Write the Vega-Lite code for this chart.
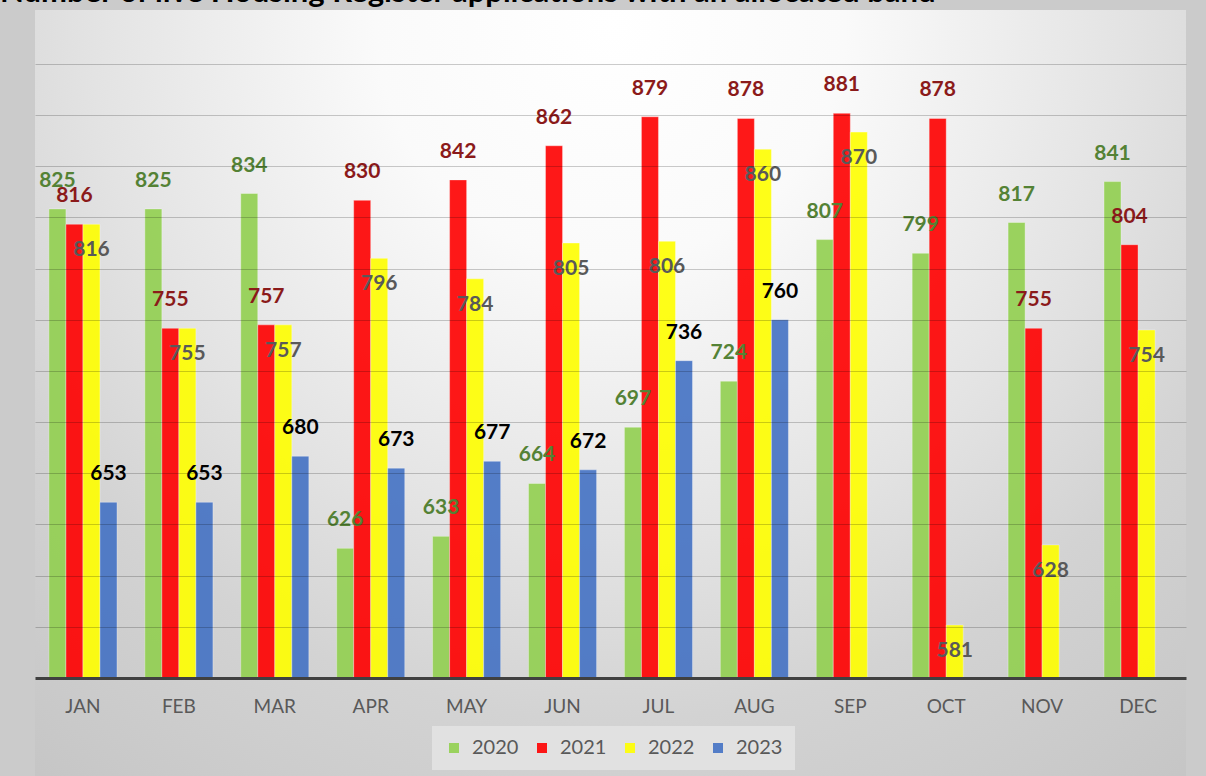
{
  "$schema": "https://vega.github.io/schema/vega-lite/v6.json",
  "width": 1151,
  "height": 766,
  "autosize": "none",
  "padding": {"left": 35, "top": 10, "right": 20, "bottom": 0},
  "background": "#cbcbcb",
  "view": {
    "stroke": null,
    "fill": {
      "gradient": "radial",
      "x1": 0.5, "y1": 0.18, "r1": 0,
      "x2": 0.5, "y2": 0.18, "r2": 0.85,
      "stops": [
        {"offset": 0, "color": "#ffffff"},
        {"offset": 0.24, "color": "#fafafa"},
        {"offset": 0.53, "color": "#e3e3e3"},
        {"offset": 0.71, "color": "#d3d3d3"},
        {"offset": 1, "color": "#c4c4c4"}
      ]
    }
  },
  "title": {
    "text": "Number of live Housing Register applications with an allocated band",
    "orient": "top",
    "anchor": "start",
    "frame": "group",
    "dx": -35,
    "dy": 31,
    "offset": 1,
    "baseline": "bottom",
    "font": "Lato",
    "fontSize": 31,
    "fontWeight": "bold",
    "color": "#000000",
    "zindex": 1
  },
  "data": {
    "values": [
      {"month": "JAN", "series": "2020", "value": 825},
      {"month": "JAN", "series": "2021", "value": 816},
      {"month": "JAN", "series": "2022", "value": 816},
      {"month": "JAN", "series": "2023", "value": 653},
      {"month": "FEB", "series": "2020", "value": 825},
      {"month": "FEB", "series": "2021", "value": 755},
      {"month": "FEB", "series": "2022", "value": 755},
      {"month": "FEB", "series": "2023", "value": 653},
      {"month": "MAR", "series": "2020", "value": 834},
      {"month": "MAR", "series": "2021", "value": 757},
      {"month": "MAR", "series": "2022", "value": 757},
      {"month": "MAR", "series": "2023", "value": 680},
      {"month": "APR", "series": "2020", "value": 626},
      {"month": "APR", "series": "2021", "value": 830},
      {"month": "APR", "series": "2022", "value": 796},
      {"month": "APR", "series": "2023", "value": 673},
      {"month": "MAY", "series": "2020", "value": 633},
      {"month": "MAY", "series": "2021", "value": 842},
      {"month": "MAY", "series": "2022", "value": 784},
      {"month": "MAY", "series": "2023", "value": 677},
      {"month": "JUN", "series": "2020", "value": 664},
      {"month": "JUN", "series": "2021", "value": 862},
      {"month": "JUN", "series": "2022", "value": 805},
      {"month": "JUN", "series": "2023", "value": 672},
      {"month": "JUL", "series": "2020", "value": 697},
      {"month": "JUL", "series": "2021", "value": 879},
      {"month": "JUL", "series": "2022", "value": 806},
      {"month": "JUL", "series": "2023", "value": 736},
      {"month": "AUG", "series": "2020", "value": 724},
      {"month": "AUG", "series": "2021", "value": 878},
      {"month": "AUG", "series": "2022", "value": 860},
      {"month": "AUG", "series": "2023", "value": 760},
      {"month": "SEP", "series": "2020", "value": 807},
      {"month": "SEP", "series": "2021", "value": 881},
      {"month": "SEP", "series": "2022", "value": 870},
      {"month": "OCT", "series": "2020", "value": 799},
      {"month": "OCT", "series": "2021", "value": 878},
      {"month": "OCT", "series": "2022", "value": 581},
      {"month": "NOV", "series": "2020", "value": 817},
      {"month": "NOV", "series": "2021", "value": 755},
      {"month": "NOV", "series": "2022", "value": 628},
      {"month": "DEC", "series": "2020", "value": 841},
      {"month": "DEC", "series": "2021", "value": 804},
      {"month": "DEC", "series": "2022", "value": 754}
    ]
  },
  "encoding": {
    "x": {
      "field": "month",
      "type": "nominal",
      "sort": ["JAN", "FEB", "MAR", "APR", "MAY", "JUN", "JUL", "AUG", "SEP", "OCT", "NOV", "DEC"],
      "scale": {"paddingInner": 0.29, "paddingOuter": 0.145},
      "axis": {
        "title": null,
        "orient": "bottom",
        "offset": -98,
        "labelAngle": 0,
        "labelFont": "Lato",
        "labelFontSize": 19,
        "labelColor": "#595959",
        "labelPadding": 19,
        "ticks": false,
        "tickSize": 0,
        "domain": true,
        "domainColor": "#404040",
        "domainWidth": 3,
        "grid": false,
        "zindex": 1
      }
    },
    "xOffset": {
      "field": "series",
      "type": "nominal",
      "scale": {"domain": ["2020", "2021", "2022", "2023"], "paddingInner": 0, "paddingOuter": 0}
    },
    "y": {
      "field": "value",
      "type": "quantitative",
      "scale": {"domain": [492.5, 941.6], "nice": false, "zero": false},
      "axis": {
        "title": null,
        "labels": false,
        "ticks": false,
        "domain": false,
        "values": [580, 610, 640, 670, 700, 730, 760, 790, 820, 850, 880, 910],
        "grid": true,
        "gridColor": "#000000",
        "gridOpacity": 0.2,
        "gridWidth": 1,
        "zindex": 1
      }
    }
  },
  "layer": [
    {
      "mark": {"type": "bar", "opacity": 0.9, "stroke": "#ffffff", "strokeWidth": 1, "strokeOpacity": 0.35},
      "encoding": {
        "y2": {"datum": 550},
        "color": {
          "field": "series",
          "type": "nominal",
          "scale": {"domain": ["2020", "2021", "2022", "2023"], "range": ["#92D050", "#FF0000", "#FFFF00", "#4472C4"]},
          "legend": {
            "title": null,
            "orient": "none",
            "legendX": 397,
            "legendY": 716,
            "direction": "horizontal",
            "fillColor": "#e1e1e1",
            "padding": 12,
            "columnPadding": 13,
            "symbolType": "square",
            "symbolSize": 100,
            "symbolStrokeWidth": 0,
            "symbolOpacity": 0.9,
            "labelFont": "Lato",
            "labelFontSize": 20,
            "labelColor": "#595959",
            "labelOffset": 8
          }
        }
      }
    },
    {
      "transform": [{"filter": "datum.series !== '2022'"}],
      "mark": {"type": "text", "font": "Lato", "fontSize": 21, "fontWeight": "bold", "baseline": "middle", "dy": -28},
      "encoding": {
        "text": {"field": "value", "type": "quantitative"},
        "color": {
          "condition": [
            {"test": "datum.series === '2020'", "value": "#548235"},
            {"test": "datum.series === '2021'", "value": "#8B1A1A"}
          ],
          "value": "#000000"
        }
      }
    },
    {
      "transform": [{"filter": "datum.series === '2022'"}],
      "mark": {"type": "text", "font": "Lato", "fontSize": 21, "fontWeight": "bold", "baseline": "middle", "dy": 26, "color": "#595959"},
      "encoding": {
        "text": {"field": "value", "type": "quantitative"}
      }
    }
  ]
}
